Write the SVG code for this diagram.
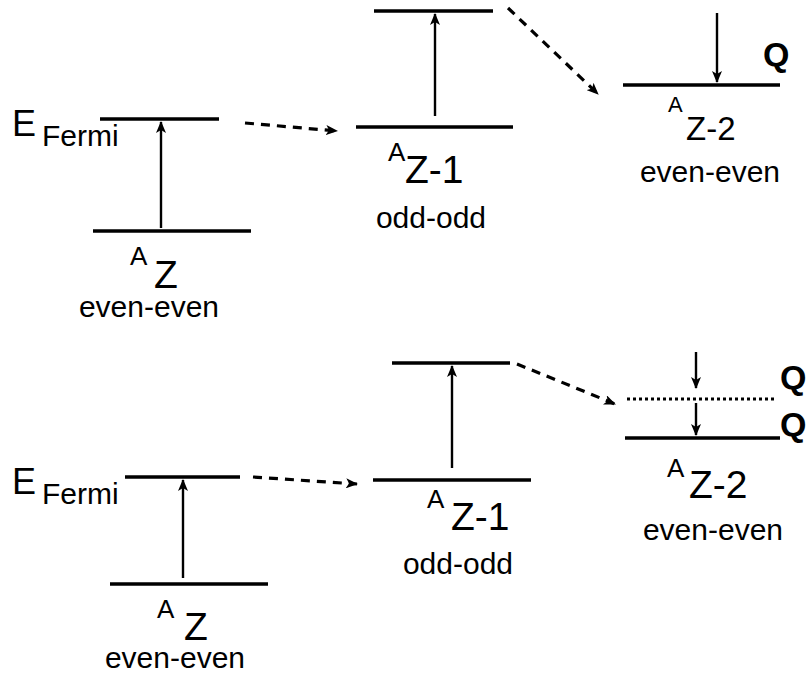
<svg xmlns="http://www.w3.org/2000/svg" width="812" height="673" viewBox="0 0 812 673">
<defs>
<marker id="ah" markerUnits="userSpaceOnUse" markerWidth="12" markerHeight="10" refX="11" refY="5" orient="auto">
<path d="M0,0 L12,5 L0,10 L3,5 Z" fill="#000"/>
</marker>
</defs>
<style>
.lvl{stroke:#000;stroke-width:3.4;fill:none}
.dot{stroke:#000;stroke-width:3;fill:none;stroke-dasharray:3 3}
.arr{stroke:#000;stroke-width:2.4;fill:none;marker-end:url(#ah)}
.dsh{stroke:#000;stroke-width:3.2;fill:none;stroke-dasharray:9 7;marker-end:url(#ah)}
text{font-family:"Liberation Sans",Arial,sans-serif;fill:#000}
.big{font-size:36px}
.fer{font-size:30px}
.sup{font-size:26px}
.nuc{font-size:39px}
.lab{font-size:30px;text-anchor:middle}
.q{font-size:34px;font-weight:bold}
</style>
<rect width="812" height="673" fill="#fff"/>
<g id="top-AZ">
<line class="lvl" x1="100" y1="119" x2="219" y2="119"/>
<line class="lvl" x1="93" y1="231" x2="251" y2="231"/>
<text class="big" x="12" y="136">E</text>
<text class="fer" x="42" y="146">Fermi</text>
<text class="sup" x="130" y="265">A</text>
<text class="nuc" x="154" y="288">Z</text>
<text class="lab" x="149" y="317">even-even</text>
</g>
<g id="top-AZ1">
<line class="lvl" x1="374" y1="11" x2="493" y2="11"/>
<line class="lvl" x1="356" y1="127" x2="513" y2="127"/>
<text class="sup" x="388" y="161">A</text>
<text class="nuc" x="405" y="183">Z-1</text>
<text class="lab" x="431" y="228">odd-odd</text>
</g>
<g id="top-AZ2">
<line class="lvl" x1="623" y1="85" x2="780" y2="85"/>
<text class="q" x="763" y="66">Q</text>
<text style="font-size:22px" x="668" y="112">A</text>
<text style="font-size:33px" x="686" y="140">Z-2</text>
<text class="lab" x="710" y="182">even-even</text>
</g>
<g id="bot-AZ">
<line class="lvl" x1="125" y1="477" x2="240" y2="477"/>
<line class="lvl" x1="110" y1="584" x2="268" y2="584"/>
<text class="big" x="12" y="494">E</text>
<text class="fer" x="42" y="504">Fermi</text>
<text class="sup" x="157" y="618">A</text>
<text class="nuc" x="184" y="640">Z</text>
<text class="lab" x="175" y="668">even-even</text>
</g>
<g id="bot-AZ1">
<line class="lvl" x1="392" y1="363" x2="510" y2="363"/>
<line class="lvl" x1="373" y1="480" x2="531" y2="480"/>
<text class="sup" x="427" y="508">A</text>
<text class="nuc" x="451" y="530">Z-1</text>
<text class="lab" x="458" y="574">odd-odd</text>
</g>
<g id="bot-AZ2">
<line class="dot" x1="627" y1="399" x2="775" y2="399"/>
<line class="lvl" x1="625" y1="438" x2="780" y2="438"/>
<text class="q" x="780" y="389">Q</text>
<text class="q" x="780" y="436">Q</text>
<text class="sup" x="667" y="477">A</text>
<text class="nuc" x="689" y="498">Z-2</text>
<text class="lab" x="713" y="540">even-even</text>
</g>
<g id="connectors">
<line class="arr" x1="161" y1="228" x2="161" y2="122"/>
<line class="arr" x1="435" y1="116" x2="435" y2="14"/>
<line class="arr" x1="717" y1="13" x2="717" y2="82"/>
<line class="dsh" x1="245" y1="123" x2="337" y2="131"/>
<line class="dsh" x1="508" y1="8" x2="598" y2="94"/>
<line class="arr" x1="183" y1="578" x2="183" y2="480"/>
<line class="arr" x1="452" y1="468" x2="452" y2="366"/>
<line class="arr" x1="696" y1="352" x2="696" y2="388"/>
<line class="arr" x1="696" y1="403" x2="696" y2="435"/>
<line class="dsh" x1="253" y1="477" x2="357" y2="484"/>
<line class="dsh" x1="517" y1="364" x2="615" y2="404"/>
</g>
</svg>
